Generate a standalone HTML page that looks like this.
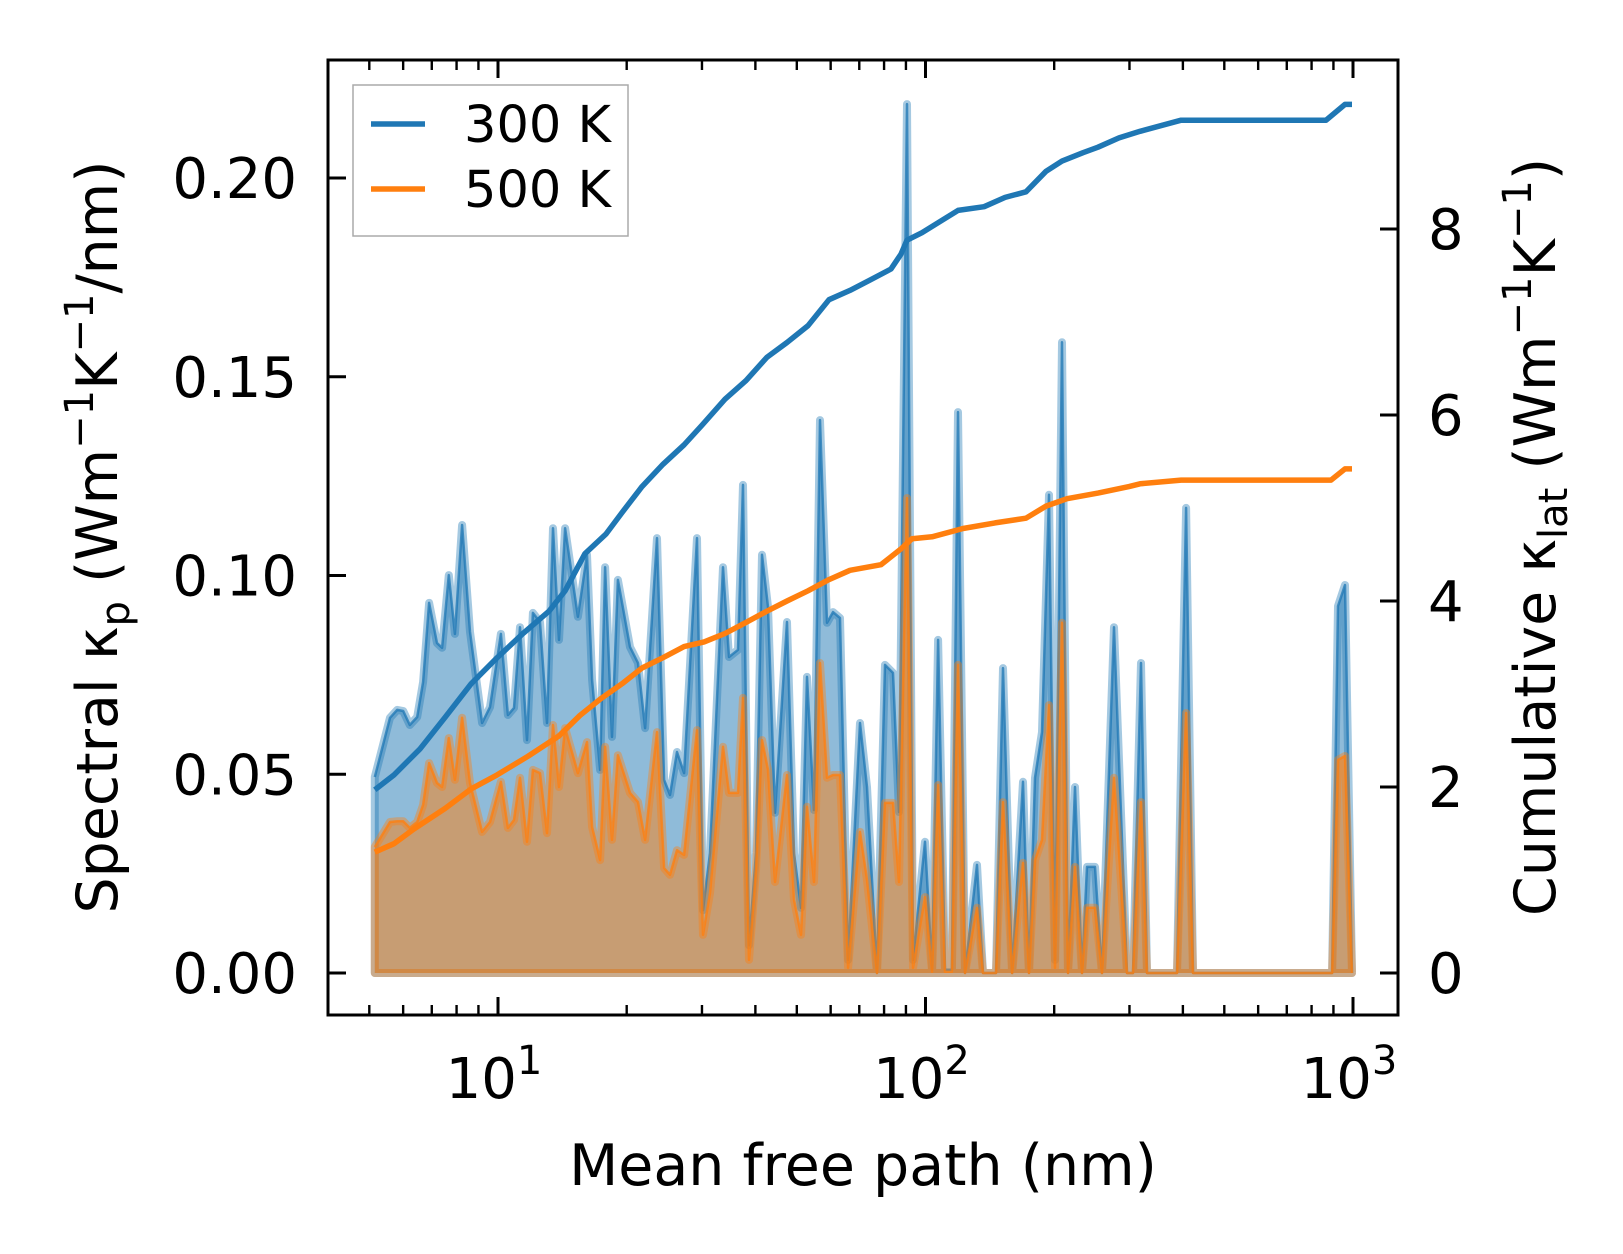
<!DOCTYPE html>
<html><head><meta charset="utf-8"><style>
html,body{margin:0;padding:0;background:#fff}
svg{display:block}
text{font-family:"DejaVu Sans","Liberation Sans",sans-serif;fill:#000}
</style></head><body>
<svg id="chart" width="1623" height="1254" viewBox="0 0 1623 1254" xmlns="http://www.w3.org/2000/svg">
<g id="plot"></g>
<g id="axes"></g>
</svg>
<script>
const mfp = [5.15,5.59,5.81,6.00,6.22,6.47,6.68,6.90,7.20,7.40,7.67,7.93,8.24,8.60,9.18,9.58,10.16,10.55,10.90,11.26,11.69,12.07,12.54,13.02,13.45,13.89,14.35,15.38,16.15,16.60,17.33,17.80,18.48,19.08,20.36,21.26,22.08,23.55,24.46,25.26,26.23,27.24,29.21,30.17,31.33,33.60,34.71,36.42,37.42,38.65,40.13,41.45,42.81,44.46,47.43,49.25,51.14,52.82,54.85,56.65,58.82,60.76,63.10,65.90,70.28,72.98,77.00,80.40,83.95,86.70,90.51,93.50,99.73,103.6,107.0,111.1,115.3,119.1,123.7,132.0,136.3,146.2,151.8,159.4,169.1,174.6,180.4,187.3,194.5,200.9,208.6,215.4,223.7,232.3,238.7,249.2,258.8,276.0,296.0,305.8,319.2,329.7,387.6,406.9,422.5,893.3,922.5,957.9,994.7];
const spec300 = [0.0493,0.0642,0.0662,0.0659,0.0624,0.0644,0.0732,0.0931,0.0830,0.0818,0.1001,0.0853,0.1127,0.0858,0.0629,0.0669,0.0853,0.0649,0.0667,0.0870,0.0586,0.0906,0.0883,0.0629,0.1119,0.0838,0.1119,0.0896,0.1052,0.0737,0.0511,0.1021,0.0594,0.0989,0.0820,0.0780,0.0616,0.1094,0.0486,0.0448,0.0556,0.0503,0.1094,0.0158,0.0302,0.1021,0.0795,0.0813,0.1228,0.0070,0.0302,0.1052,0.0921,0.0403,0.0883,0.0302,0.0164,0.0745,0.0410,0.1391,0.0881,0.0908,0.0893,0.0033,0.0629,0.0468,0,0.0775,0.0755,0.0405,0.2186,0.0033,0.0330,0.0008,0.0838,0.0008,0.0008,0.1411,0,0.0272,0,0,0.0767,0,0.0481,0,0.0491,0.0606,0.1203,0.0033,0.1587,0,0.0468,0,0.0267,0.0267,0,0.0870,0,0,0.0780,0,0,0.1170,0,0,0.0923,0.0976,0];
const spec500 = [0.0317,0.0380,0.0382,0.0382,0.0365,0.0380,0.0423,0.0528,0.0478,0.0468,0.0591,0.0486,0.0642,0.0478,0.0355,0.0380,0.0481,0.0365,0.0385,0.0491,0.0330,0.0511,0.0503,0.0352,0.0624,0.0468,0.0616,0.0503,0.0581,0.0367,0.0284,0.0569,0.0335,0.0548,0.0453,0.0430,0.0335,0.0606,0.0264,0.0247,0.0309,0.0297,0.0611,0.0096,0.0201,0.0569,0.0453,0.0453,0.0692,0.0033,0.0259,0.0586,0.0511,0.0229,0.0498,0.0184,0.0096,0.0418,0.0229,0.0780,0.0491,0.0498,0.0498,0.0013,0.0355,0.0234,0,0.0428,0.0428,0.0229,0.1195,0.0013,0.0191,0.0003,0.0473,0.0003,0.0003,0.0775,0,0.0164,0,0,0.0430,0,0.0277,0,0.0284,0.0335,0.0674,0.0013,0.0881,0,0.0267,0,0.0164,0.0164,0,0.0491,0,0,0.0430,0,0,0.0654,0,0,0.0536,0.0546,0];
const cumMfp300 = [5.15,5.71,6.57,7.52,8.65,9.95,11.44,13.16,14.35,15.98,17.89,19.50,21.72,24.32,27.24,30.01,33.96,38.03,42.57,47.43,53.11,59.46,66.59,74.16,83.05,87.64,90.51,98.13,109.9,119.1,137.1,153.5,171.8,191.4,208.6,233.6,253.2,283.6,317.6,396.1,864.8,957.9,994.7];
const cum300 = [1.97,2.13,2.41,2.75,3.11,3.39,3.65,3.89,4.11,4.51,4.72,4.95,5.23,5.47,5.68,5.89,6.17,6.37,6.62,6.78,6.96,7.24,7.34,7.45,7.57,7.73,7.88,7.96,8.10,8.20,8.24,8.34,8.40,8.62,8.73,8.82,8.88,8.98,9.05,9.17,9.17,9.34,9.34];
const cumMfp500 = [5.15,5.71,6.36,7.52,8.65,9.95,11.75,13.89,15.55,17.41,19.50,21.72,24.32,27.24,30.34,33.96,38.03,42.57,47.43,53.11,59.46,66.59,78.70,87.64,92.99,103.6,122.4,145.4,171.8,191.4,214.3,253.2,299.2,317.6,396.1,888.3,957.9,994.7];
const cum500 = [1.30,1.39,1.55,1.77,1.98,2.13,2.33,2.55,2.77,2.95,3.11,3.28,3.39,3.51,3.56,3.65,3.77,3.89,4.00,4.11,4.23,4.33,4.39,4.56,4.67,4.69,4.78,4.84,4.89,5.02,5.10,5.16,5.23,5.26,5.30,5.30,5.42,5.42];
const leftTicks = [0,0.05,0.10,0.15,0.20];
const leftTickLabels = ["0.00","0.05","0.10","0.15","0.20"];
const rightTicks = [0,2,4,6,8];
const xDecades = [1,2,3];

const L=328,R=1398,T=60,B=1015;
const X0=498, DEC=427.5;
function xs(v){return X0+(Math.log10(v)-1)*DEC;}
function yl(v){return 973 - v*3975;}
function yr(v){return 973 - v*93;}
const NS="http://www.w3.org/2000/svg";
function mk(tag,attrs,parent){const e=document.createElementNS(NS,tag);for(const k in attrs)e.setAttribute(k,attrs[k]);parent.appendChild(e);return e;}
const plot=document.getElementById('plot'), axes=document.getElementById('axes');
const clip=mk('clipPath',{id:'clipA'},document.getElementById('chart'));
mk('rect',{x:L,y:T,width:R-L,height:B-T},clip);
plot.setAttribute('clip-path','url(#clipA)');

function spectral(vals,color,name){
  let d='M'+xs(mfp[0])+','+yl(0);
  let ld='';
  mfp.forEach((m,i)=>{d+=' L'+xs(m).toFixed(1)+','+yl(vals[i]).toFixed(1);ld+=(i?' L':'M')+xs(m).toFixed(1)+','+yl(vals[i]).toFixed(1);});
  d+=' L'+xs(mfp[mfp.length-1])+','+yl(0)+' Z';
  const f=mk('path',{d:d,fill:color,'fill-opacity':0.5,stroke:color,'stroke-opacity':0.4,'stroke-width':8,'stroke-linejoin':'round'},plot);
  
  
  const l=mk('path',{d:ld,fill:'none',stroke:color,'stroke-opacity':0.75,'stroke-width':2.5,'stroke-linejoin':'round'},plot);
  
  
}
spectral(spec300,'#1f77b4','spectral-300k');
spectral(spec500,'#ff7f0e','spectral-500k');
function cum(xsArr,vals,color,name){
  let d='';xsArr.forEach((m,i)=>{d+=(i?' L':'M')+xs(m).toFixed(1)+','+yr(vals[i]).toFixed(1);});
  const p=mk('path',{d:d,fill:'none',stroke:color,'stroke-width':5.5,'stroke-linejoin':'round'},plot);
  
  
}
cum(cumMfp300,cum300,'#1f77b4','cumulative-300k');
cum(cumMfp500,cum500,'#ff7f0e','cumulative-500k');

// frame
const fr=mk('rect',{x:L,y:T,width:R-L,height:B-T,fill:'none',stroke:'#000','stroke-width':3},axes);


// x ticks
xDecades.forEach(k=>{
  const v=Math.pow(10,k), x=xs(v);
  mk('line',{x1:x,x2:x,y1:B,y2:B-18,stroke:'#000','stroke-width':3},axes);
  mk('line',{x1:x,x2:x,y1:T,y2:T+18,stroke:'#000','stroke-width':3},axes);
  const t=mk('text',{x:x-4,y:1098,'font-size':56,'text-anchor':'middle'},axes);
  
  
  t.innerHTML='10<tspan font-size="40" dy="-24">'+k+'</tspan>';
});
[0,1,2].forEach(k=>{for(let m=2;m<10;m++){const v=m*Math.pow(10,k);const x=xs(v);if(x<=L+1||x>=R)continue;
  mk('line',{x1:x,x2:x,y1:B,y2:B-10,stroke:'#000','stroke-width':2.4},axes);
  mk('line',{x1:x,x2:x,y1:T,y2:T+10,stroke:'#000','stroke-width':2.4},axes);}});
leftTicks.forEach((v,i)=>{const y=yl(v);
  mk('line',{x1:L,x2:L+18,y1:y,y2:y,stroke:'#000','stroke-width':3},axes);
  const t=mk('text',{x:297,y:y+20,'font-size':56,'text-anchor':'end'},axes);
  
  
  t.textContent=leftTickLabels[i];});
rightTicks.forEach(v=>{const y=yr(v);
  mk('line',{x1:R,x2:R-18,y1:y,y2:y,stroke:'#000','stroke-width':3},axes);
  const t=mk('text',{x:1428,y:y+20,'font-size':56,'text-anchor':'start'},axes);
  
  
  t.textContent=v;});
</script>
<svg style="position:absolute;left:0;top:0" width="1623" height="1254">
<text x="863" y="1185" font-size="57" text-anchor="middle" style="font-family:'DejaVu Sans',sans-serif">Mean free path (nm)</text>
<text transform="translate(117,537) rotate(-90)" font-size="57" text-anchor="middle" style="font-family:'DejaVu Sans',sans-serif">Spectral κ<tspan font-size="40" dy="12">p</tspan><tspan dy="-12"> (Wm</tspan><tspan font-size="40" dy="-24">−1</tspan><tspan dy="24">K</tspan><tspan font-size="40" dy="-24">−1</tspan><tspan dy="24">/nm)</tspan></text>
<text transform="translate(1555,537) rotate(-90)" font-size="57" text-anchor="middle" style="font-family:'DejaVu Sans',sans-serif">Cumulative κ<tspan font-size="40" dy="12">lat</tspan><tspan dy="-12"> (Wm</tspan><tspan font-size="40" dy="-24">−1</tspan><tspan dy="24">K</tspan><tspan font-size="40" dy="-24">−1</tspan><tspan dy="24">)</tspan></text>
<g>
<rect x="353" y="85" width="275" height="151" fill="#fff" fill-opacity="0.8" stroke="#aaa" stroke-width="1.5"/>
<line x1="371" x2="425" y1="124" y2="124" stroke="#1f77b4" stroke-width="5.5"/>
<text x="464" y="142" font-size="51" style="font-family:'DejaVu Sans',sans-serif">300 K</text>
<line x1="371" x2="425" y1="189" y2="189" stroke="#ff7f0e" stroke-width="5.5"/>
<text x="464" y="207" font-size="51" style="font-family:'DejaVu Sans',sans-serif">500 K</text>
</g>
</svg>
</body></html>
